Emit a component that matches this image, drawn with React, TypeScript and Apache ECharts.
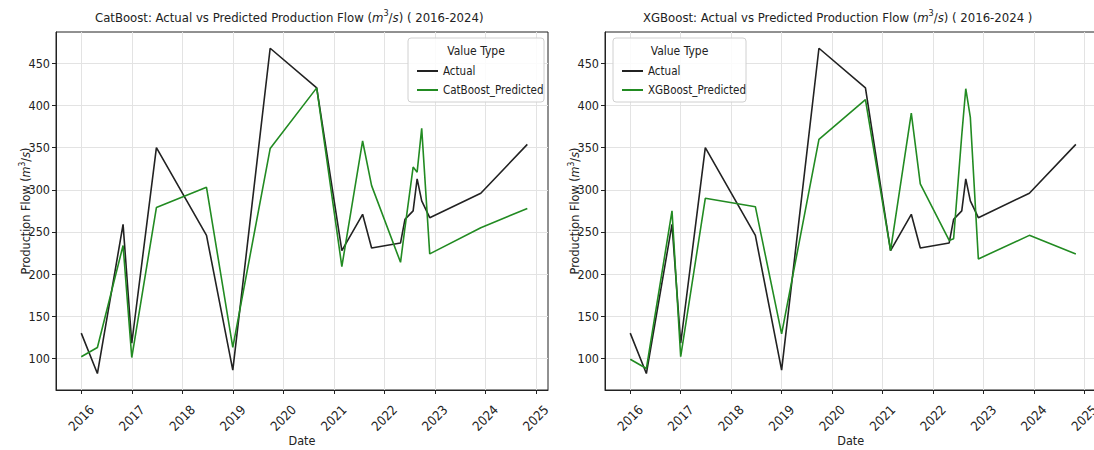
import React, { useEffect, useRef } from "react";
import * as echarts from "echarts";

const dates = [
  "2016-01-01", "2016-04-27", "2016-10-30", "2017-01-01", "2017-06-28",
  "2018-06-25", "2019-01-01", "2019-09-28", "2020-08-30", "2021-02-28",
  "2021-07-28", "2021-10-01", "2022-04-28", "2022-05-30", "2022-07-28",
  "2022-08-26", "2022-09-28", "2022-11-25", "2023-11-29", "2024-10-31",
];
const actual = [130, 82, 259, 118, 350, 246, 86, 468, 421, 228, 271, 231, 237, 265, 275, 313, 287, 267, 296, 354];
const catboostPredicted = [102, 113, 234, 101, 279, 303, 113, 349, 421, 209, 358, 305, 214, 255, 327, 321, 373, 224, 255, 278];
const xgboostPredicted = [99, 88, 275, 102, 290, 280, 129, 360, 407, 228, 391, 307, 240, 242, 365, 420, 386, 218, 246, 224];
const yearTicks = [2016, 2017, 2018, 2019, 2020, 2021, 2022, 2023, 2024, 2025];
const flowTicks = [100, 150, 200, 250, 300, 350, 400, 450];

const FONT = "'DejaVu Sans Condensed', 'DejaVu Sans'";
const DARK = "#222222";
const GREEN = "#228B22";

function toYear(d: string): number {
  const [y, m, day] = d.split("-").map(Number);
  const start = Date.UTC(y, 0, 1);
  const end = Date.UTC(y + 1, 0, 1);
  return y + (Date.UTC(y, m - 1, day) - start) / (end - start);
}

const pairs = (vals: number[]) => dates.map((d, i) => [toYear(d), vals[i]]);

const richTitle = {
  a: { fontSize: 13, fontFamily: FONT, fontWeight: "normal", color: DARK, lineHeight: 18 },
  i: { fontSize: 13, fontFamily: FONT, fontWeight: "normal", color: DARK, fontStyle: "italic", lineHeight: 18 },
  s: { fontSize: 9, fontFamily: FONT, fontWeight: "normal", color: DARK, verticalAlign: "top", lineHeight: 12 },
};
const richName = {
  a: { fontSize: 12.5, fontFamily: FONT, color: DARK, lineHeight: 16 },
  i: { fontSize: 12.5, fontFamily: FONT, color: DARK, fontStyle: "italic", lineHeight: 16 },
  s: { fontSize: 8.5, fontFamily: FONT, color: DARK, verticalAlign: "top", lineHeight: 10 },
};

function xAxis(gridIndex: number) {
  return {
    type: "value",
    gridIndex,
    min: 2015.5,
    max: 2025.24,
    name: "Date",
    nameLocation: "middle",
    nameGap: 44,
    nameMoveOverlap: false,
    nameTextStyle: { fontSize: 12.5, fontFamily: FONT, color: DARK },
    axisLine: { show: true, onZero: false, lineStyle: { color: DARK, width: 1 } },
    axisTick: { show: true, customValues: yearTicks, length: 4, lineStyle: { color: DARK } },
    axisLabel: {
      customValues: yearTicks,
      rotate: 45,
      align: "center",
      verticalAlign: "middle",
      margin: 28,
      fontSize: 13,
      fontFamily: FONT,
      color: DARK,
      formatter: (v: number) => String(Math.round(v)),
    },
    splitLine: { show: true, lineStyle: { color: "#e3e3e3", width: 1 } },
  };
}

function yAxis(gridIndex: number) {
  return {
    type: "value",
    gridIndex,
    min: 62.5,
    max: 487.3,
    name: "{a|Production Flow (}{i|m}{s|3}{a|/}{i|s}{a|)}",
    nameLocation: "middle",
    nameGap: 23,
    nameMoveOverlap: false,
    nameRotate: 90,
    nameTextStyle: { color: DARK, rich: richName },
    axisLine: { show: true, lineStyle: { color: DARK, width: 1 } },
    axisTick: { show: true, customValues: flowTicks, length: 4, lineStyle: { color: DARK } },
    axisLabel: {
      customValues: flowTicks,
      margin: 6,
      fontSize: 12.5,
      fontFamily: FONT,
      color: DARK,
    },
    splitLine: { show: true, lineStyle: { color: "#e3e3e3", width: 1 } },
  };
}

function lineSeries(name: string, vals: number[], color: string, idx: number) {
  return {
    type: "line",
    name,
    xAxisIndex: idx,
    yAxisIndex: idx,
    data: pairs(vals),
    symbol: "none",
    lineStyle: { color, width: 1.6 },
    itemStyle: { color },
    z: name === "Actual" ? 2 : 3,
  };
}

function legendBox(x: number, w: number) {
  return [
    {
      type: "rect",
      shape: { x, y: 38, width: w, height: 64, r: 3 },
      style: { fill: "rgba(255,255,255,0.85)", stroke: "#d0d0d0", lineWidth: 1 },
      z: 10,
    },
    {
      type: "text",
      x: x + w / 2,
      y: 51,
      style: {
        text: "Value Type",
        fontSize: 12,
        fontFamily: FONT,
        fill: DARK,
        align: "center",
        verticalAlign: "middle",
      },
      z: 11,
    },
  ];
}

function legend(names: string[], left: number) {
  return {
    data: names,
    orient: "vertical",
    left,
    top: 59,
    icon: "rect",
    itemWidth: 21,
    itemHeight: 2,
    itemGap: 5,
    textStyle: { fontSize: 11.5, fontFamily: FONT, color: DARK, lineHeight: 14 },
    z: 20,
  };
}

function grid(left: number, width: number) {
  return {
    left,
    top: 32,
    width,
    height: 358,
    show: true,
    borderColor: DARK,
    borderWidth: 1,
    backgroundColor: "transparent",
    containLabel: false,
    outerBoundsMode: "none",
  };
}

export default function App() {
  const ref = useRef<HTMLDivElement>(null);
  useEffect(() => {
    if (!ref.current) return;
    const chart = echarts.init(ref.current, null, { renderer: "svg" });
    chart.setOption({
      animation: false,
      backgroundColor: "#ffffff",
      title: [
        {
          text: "{a|CatBoost: Actual vs Predicted Production Flow (}{i|m}{s|3}{a|/}{i|s}{a|) ( 2016-2024)}",
          left: 95,
          top: 8,
          padding: 0,
          textStyle: { fontWeight: "normal", rich: richTitle },
        },
        {
          text: "{a|XGBoost: Actual vs Predicted Production Flow (}{i|m}{s|3}{a|/}{i|s}{a|) ( 2016-2024 )}",
          left: 643,
          top: 8,
          padding: 0,
          textStyle: { fontWeight: "normal", rich: richTitle },
        },
      ],
      grid: [grid(56, 492), grid(605, 491.5)],
      xAxis: [xAxis(0), xAxis(1)],
      yAxis: [yAxis(0), yAxis(1)],
      legend: [
        legend(["Actual", "CatBoost_Predicted"], 412),
        legend(["Actual", "XGBoost_Predicted"], 617),
      ],
      graphic: [...legendBox(408, 136), ...legendBox(613, 133)],
      series: [
        lineSeries("Actual", actual, DARK, 0),
        lineSeries("CatBoost_Predicted", catboostPredicted, GREEN, 0),
        lineSeries("Actual", actual, DARK, 1),
        lineSeries("XGBoost_Predicted", xgboostPredicted, GREEN, 1),
      ],
    });
    return () => chart.dispose();
  }, []);
  return (
    <div
      ref={ref}
      style={{ position: "absolute", left: 0, top: 0, width: 1094, height: 450, background: "#fff" }}
    />
  );
}
